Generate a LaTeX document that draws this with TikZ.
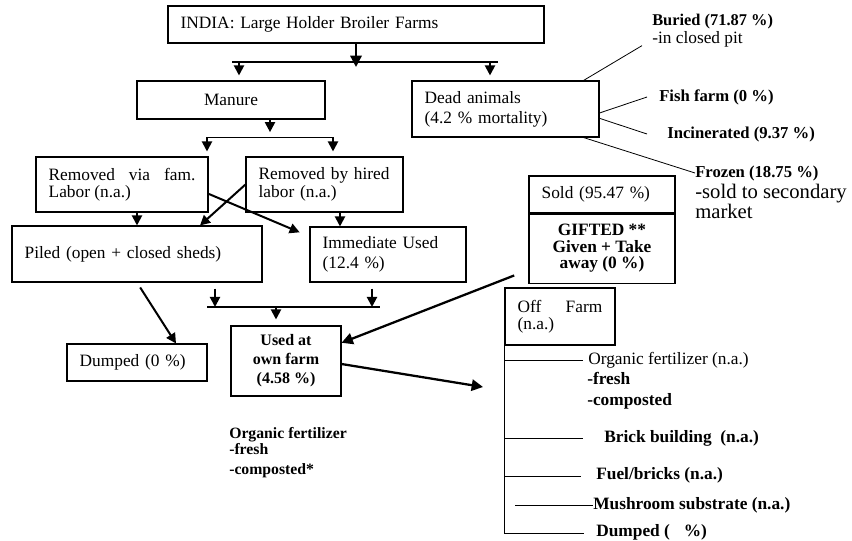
\documentclass[tikz,border=0pt]{standalone}
\usepackage{fontspec}
\setmainfont{Liberation Serif}
\usetikzlibrary{positioning, arrows.meta, calc}
\hyphenpenalty=10000
\exhyphenpenalty=10000

\begin{document}
\begin{tikzpicture}[x=0.75pt, y=-0.75pt, font=\fontsize{13}{14}\selectfont]

			% Define styles
			\tikzset{
				box/.style={
					rectangle, draw, line width=0.8pt,
					inner xsep=9.5pt, inner ysep=2pt, align=left
				},
				cbox/.style={box, align=center},
				jbox/.style={box, align=justify},
				lbl/.style={inner sep=0pt, anchor=west, align=left},
				rlbl/.style={lbl, font=\fontsize{12.5}{14}\selectfont\bfseries},
				blbl/.style={lbl, font=\fontsize{13}{14}\selectfont\bfseries},
				tight/.style={font=\fontsize{13}{13}\selectfont},
				loose/.style={font=\fontsize{13}{15}\selectfont},
				arrow/.style={line width=1.5pt, -{Triangle[length=7.5pt, width=7.5pt]}},
				bigarrow/.style={line width=1.7pt, -{Triangle[length=8.5pt, width=8.5pt]}},
				bar/.style={line width=0.8pt},
				twig/.style={line width=0.6pt}
			}

			\useasboundingbox (0,0) rectangle (852,541);

			% Manure branch
			\node (india)   [box, text width=263pt, minimum height=27.75pt] at (356,24.5) {INDIA: Large Holder Broiler Farms};
			\node (manure)  [cbox, minimum width=141pt, minimum height=28.5pt] at (231,100) {Manure};
			\node (famlab)  [jbox, tight, text width=110pt, minimum height=41.25pt] at (122,184.5) {Removed via fam. Labor (n.a.)};
			\node (hired)   [box, tight, text width=98.75pt, minimum height=41.25pt] at (324.5,184.5) {Removed by hired\\labor (n.a.)};
			\node (piled)   [box, text width=168.5pt, minimum height=42pt] at (137,254) {Piled (open + closed sheds)};
			\node (immed)   [box, loose, text width=98pt, minimum height=41.25pt] at (388,254.5) {Immediate Used\\(12.4 \%)};
			\node (dumped)  [box, text width=86pt, minimum height=27.75pt] at (137,362.5) {Dumped (0 \%)};
			\node (ownfarm) [cbox, font=\fontsize{12}{14.25}\selectfont\bfseries, minimum width=82.5pt, minimum height=52.5pt] at (286,361) {Used at\\own farm\\(4.58 \%)};
			\node (orgnote) [lbl, font=\fontsize{11.8}{11.5}\selectfont\bfseries] at (229,452.5) {Organic fertilizer\\-fresh\\[3.5pt]-composted*};

			% Dead animals
			\node (dead)    [box, loose, text width=121.25pt, minimum height=42pt] at (505.5,109) {Dead animals\\(4.2 \% mortality)};
			\node (buried)  [lbl] at (652,30.5) {{\fontsize{12.3}{14}\selectfont\bfseries Buried (71.87 \%)}\\-in closed pit};
			\node (fish)    [rlbl] at (659,97) {Fish farm (0 \%)};
			\node (incin)   [rlbl] at (667,134) {Incinerated (9.37 \%)};
			\node (frozen)  [rlbl] at (695,173) {Frozen (18.75 \%)};
			\node (frznote) [lbl, font=\fontsize{15.5}{13.5}\selectfont] at (695,201) {-sold to secondary\\market};

			% Sold and off farm
			\node (sold)    [box, text width=90.5pt, minimum height=27.75pt] at (602,194.5) {Sold (95.47 \%)};
			\node (gifted)  [cbox, font=\fontsize{13}{12.4}\selectfont\bfseries, minimum width=109.5pt, minimum height=51.75pt, below=0pt of sold] {GIFTED **\\Given + Take\\away (0 \%)};
			\node (offfarm) [jbox, tight, text width=63.5pt, minimum height=42.75pt] at (560,316.5) {Off Farm (n.a.)};
			\node (offorg)  [lbl] at (588,360) {Organic fertilizer (n.a.)};
			\node (offsub)  [lbl, font=\fontsize{13}{15.4}\selectfont\bfseries] at (587,391) {-fresh\\-composted};
			\node (brick)   [blbl] at (604,438) {Brick building\ \ (n.a.)};
			\node (fuel)    [blbl] at (596,475) {Fuel/bricks (n.a.)};
			\node (mush)    [blbl] at (593,505) {Mushroom substrate (n.a.)};
			\node (dumpoff) [blbl] at (596,532) {Dumped (\hspace{0.8em}\%)};

			% Junctions
			\coordinate (j1) at (356,62);
			\coordinate (j1w) at (232,62);
			\coordinate (j1e) at (498,62);
			\coordinate (j1m) at (239,62);
			\coordinate (j1d) at (490,62);
			\coordinate (j2) at (270,137.5);
			\coordinate (j2w) at (207,137.5);
			\coordinate (j2e) at (333,137.5);
			\coordinate (j3) at (276,307);
			\coordinate (j3w) at (207,307);
			\coordinate (j3e) at (380,307);
			\coordinate (j3a) at (215,307);
			\coordinate (j3b) at (372,307);
			\coordinate (offin) at (483,387);

			% Arrows (main flow)
			\draw[bigarrow, shorten >=-3.75pt] (india.south) -- (j1);
			\draw[bar] (j1w) -- (j1e);
			\draw[arrow, shorten >=3.75pt] (j1m) -- (j1m |- manure.north);
			\draw[arrow, shorten >=3.75pt] (j1d) -- (j1d |- dead.north);
			\draw[arrow, shorten >=4pt] (manure.south -| j2) -- (j2);
			\draw[bar] (j2w) -- (j2e);
			\draw[arrow, shorten >=3.75pt] (j2w) -- (j2w |- famlab.north);
			\draw[arrow, shorten >=3.75pt] (j2e) -- (j2e |- hired.north);

			% Removal to piled / immediate use
			\draw[arrow] (famlab.south -| piled.north) -- (piled.north);
			\draw[arrow] ($(hired.south)+(15.5,0)$) -- ($(hired.south |- immed.north)+(15.5,0)$);
			\draw[arrow, shorten >=8pt] ([yshift=-7pt]famlab.east) -- ([yshift=-7.5pt]immed.north west);
			\draw[arrow] (hired.west) -- ([xshift=47.25pt]piled.north);

			% Use at own farm
			\draw[arrow, shorten <=4.5pt] (piled.south -| j3a) -- (j3a);
			\draw[arrow, shorten <=4.5pt] (immed.south -| j3b) -- (j3b);
			\draw[bar] (j3w) -- (j3e);
			\draw[arrow, shorten >=4.5pt] (j3) -- (j3 |- ownfarm.north);
			\draw[arrow, shorten <=4.4pt] (piled.south) -- ([xshift=29.25pt]dumped.north);
			\draw[bigarrow, shorten <=11.5pt] ([yshift=-16pt]gifted.west) -- ([yshift=-13pt]ownfarm.north east);
			\draw[bigarrow] ([yshift=-2.25pt]ownfarm.east) -- (offin);

			% Dead animals lines
			\draw[twig] ([xshift=-12pt]dead.north east) -- ([xshift=-7.5pt, yshift=1.5pt]buried.south west);
			\draw[twig] ([yshift=-3pt]dead.east) -- ([xshift=-9pt]fish.west);
			\draw[twig] ([yshift=-7pt]dead.east) -- ([xshift=-15pt]incin.west);
			\draw[twig] ([xshift=-12pt]dead.south east) -- (frozen.west);

			% Off farm branches
			\draw[twig] (offfarm.south west) -- ([yshift=-1.5pt]offfarm.south west |- dumpoff.west);
			\draw[twig] (offfarm.south west |- offorg.west) -- ([xshift=-3.75pt]offorg.west);
			\draw[twig] (offfarm.south west |- brick.west) -- ([xshift=-15.75pt]brick.west);
			\draw[twig] ([yshift=-1pt]offfarm.south west |- fuel.west) -- ([xshift=-11.25pt, yshift=-1pt]fuel.west);
			\draw[twig] ([xshift=-58.5pt]mush.west) -- (mush.west);
			\draw[twig] ([yshift=-0.75pt]offfarm.south west |- dumpoff.west) -- ([xshift=-9pt, yshift=-0.75pt]dumpoff.west);

		\end{tikzpicture}
\end{document}
